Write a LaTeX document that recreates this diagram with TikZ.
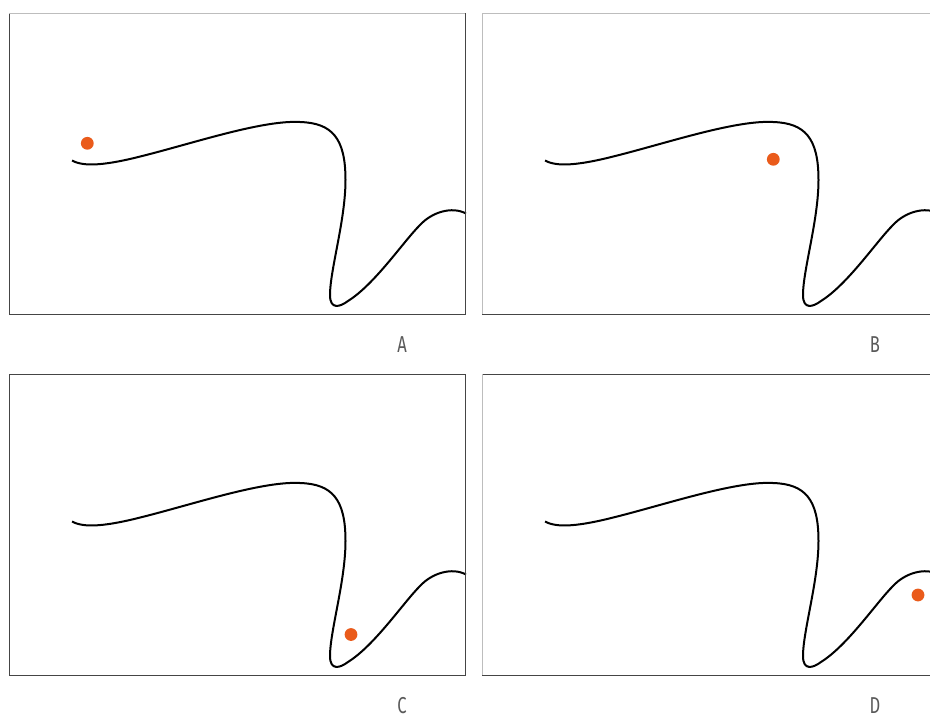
\documentclass[tikz,border=0pt]{standalone}
\usepackage{fontspec}
\newfontfamily\labfont[FakeStretch=0.72]{Fira Sans}
\definecolor{dotor}{HTML}{EA5B1B}
\definecolor{framedark}{HTML}{454545}
\definecolor{framelight}{HTML}{BDBDBD}
\definecolor{labgray}{HTML}{5A5A5A}
\tikzset{
  curveline/.style={line width=2pt, black, line join=round},
  framestyle/.style={line width=1pt, framedark},
  framelite/.style={line width=1pt, framelight},
  ball/.style={circle, fill=dotor, minimum size=12.8pt, inner sep=0pt},
  panellabel/.style={anchor=base, text=labgray, font=\labfont\fontsize{23}{23}\selectfont, inner sep=0pt, text depth=0pt}
}
\newcommand{\mypanel}[6]{%
  % #1 shift x, #2 shift y, #3 dot x, #4 dot y, #5 label, #6 prefix
  \begin{scope}[shift={(#1,#2)}]
    \coordinate (#6tl) at (9,13);
    \coordinate (#6tr) at (465,13);
    \coordinate (#6br) at (465,314);
    \coordinate (#6bl) at (9,314);
    \draw[curveline] (72,160.5) .. controls (84,167) and (105,166) .. (150,154)
      .. controls (200,141) and (264,120) .. (300,122)
      .. controls (332,123) and (345.5,138) .. (345.5,180)
      .. controls (345.5,220) and (330,270) .. (330,295)
      .. controls (330,310) and (340,307) .. (348,301)
      .. controls (375,284) and (403,242) .. (420,225)
      .. controls (432,212) and (452,206) .. (466,213.5);
    \node[ball] (#6dot) at (#3,#4) {};
    \node[panellabel] (#6lab) at (402,352.5) {#5};
  \end{scope}}
\begin{document}
\begin{tikzpicture}[x=1pt,y=-1pt]
\useasboundingbox (0,0) rectangle (930,716);
\clip (0,0) rectangle (930,716);
\fill[white] (0,0) rectangle (930,716);
\mypanel{0}{0}{87.3}{143.3}{A}{a}
\mypanel{473}{0}{300.3}{159.3}{B}{b}
\mypanel{0}{361}{351}{273.5}{C}{c}
\mypanel{473}{361}{445}{234}{D}{d}
% frames
\draw[framestyle] (atr) -- (abr) -- (abl) -- (atl);
\draw[framelite] (atl) -- (atr);
\draw[framelite] (bbl) -- (btl) -- (btr);
\draw[framestyle] (bbl) -- (bbr);
\draw[framestyle] (cbl) -- (ctl) -- (ctr) -- (cbr) -- cycle;
\draw[framestyle] (dtl) -- (dtr);
\draw[framestyle] (dbl) -- (dbr);
\draw[framelite] (dtl) -- (dbl);
\end{tikzpicture}
\end{document}
